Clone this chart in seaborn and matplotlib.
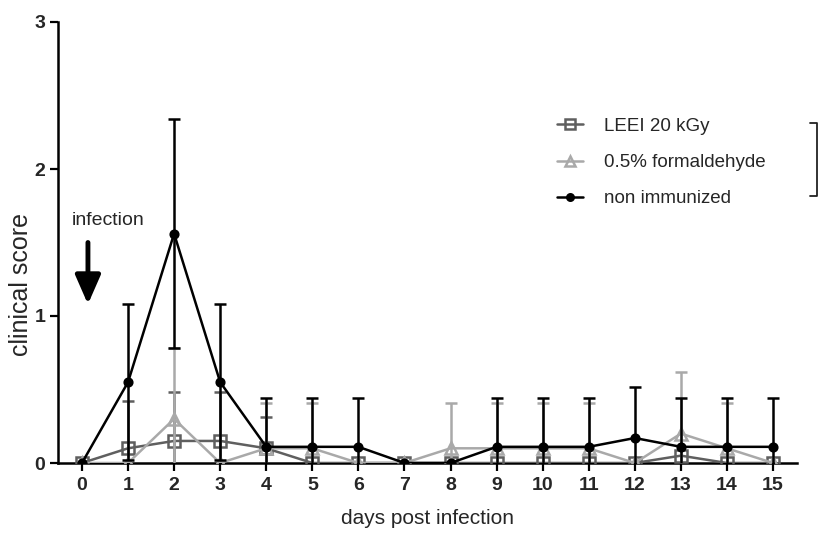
import matplotlib
matplotlib.use("Agg")
import matplotlib.pyplot as plt
from matplotlib.lines import Line2D
import seaborn as sns
import pandas as pd

days = list(range(16))
groups = ["LEEI 20 kGy", "0.5% formaldehyde", "non immunized"]

leei_mean = [0, 0.10, 0.15, 0.15, 0.10, 0, 0, 0, 0, 0, 0, 0, 0, 0.05, 0, 0]
leei_sd = [0, 0.32, 0.33, 0.33, 0.21, 0, 0, 0, 0, 0, 0, 0, 0, 0, 0, 0]

form_mean = [0, 0, 0.30, 0, 0.10, 0.10, 0, 0, 0.10, 0.10, 0.10, 0.10, 0, 0.20, 0.10, 0]
form_sd = [0, 0, 0.48, 0, 0.31, 0.31, 0, 0, 0.31, 0.31, 0.31, 0.31, 0, 0.42, 0.31, 0]

non_mean = [0, 0.55, 1.56, 0.55, 0.11, 0.11, 0.11, 0, 0, 0.11, 0.11, 0.11, 0.17, 0.11, 0.11, 0.11]
non_sd = [0, 0.53, 0.78, 0.53, 0.33, 0.33, 0.33, 0, 0, 0.33, 0.33, 0.33, 0.35, 0.33, 0.33, 0.33]

y_ticks = [0, 1, 2, 3]

sns.set_style("ticks")
plt.rcParams["font.family"] = ["Liberation Sans", "DejaVu Sans"]

fig = plt.figure(figsize=(8.2, 5.34), dpi=100)
ax = fig.add_axes([58 / 820, 1 - 463 / 534, (797 - 58) / 820, (463 - 22) / 534])

colors = {"LEEI 20 kGy": "#5f5f5f", "0.5% formaldehyde": "#a9a9a9", "non immunized": "#000000"}
markers = {"LEEI 20 kGy": "s", "0.5% formaldehyde": "^", "non immunized": "o"}
msizes = {"LEEI 20 kGy": 8, "0.5% formaldehyde": 8, "non immunized": 5.5}
means = {"LEEI 20 kGy": leei_mean, "0.5% formaldehyde": form_mean, "non immunized": non_mean}
sds = {"LEEI 20 kGy": leei_sd, "0.5% formaldehyde": form_sd, "non immunized": non_sd}

LW = 1.8
handles = []
for i, g in enumerate(groups):
    df = pd.DataFrame({"day": days, "score": means[g], "sd": sds[g]})
    sub = df[df["sd"] > 0]
    ax.errorbar(sub["day"], sub["score"], yerr=sub["sd"], fmt="none",
                ecolor=colors[g], elinewidth=LW, capsize=4, capthick=LW,
                zorder=2 + i)
    filled = g == "non immunized"
    sns.lineplot(data=df, x="day", y="score", color=colors[g], marker=markers[g],
                 markersize=msizes[g], markeredgewidth=LW,
                 markerfacecolor=colors[g] if filled else "none",
                 markeredgecolor=colors[g], linewidth=LW, ax=ax, zorder=3 + i,
                 legend=False)
    handles.append(Line2D([], [], color=colors[g], marker=markers[g],
                          markersize=msizes[g] * 0.85, markeredgewidth=LW,
                          markerfacecolor=colors[g] if filled else "none",
                          linewidth=LW, label=g))

ax.set_xlim(-0.52, 15.52)
ax.set_ylim(0, 3)
ax.set_xticks(days)
ax.set_yticks(y_ticks)
ax.set_xticklabels([str(d) for d in days], fontsize=14, fontweight="bold")
ax.set_yticklabels([str(t) for t in y_ticks], fontsize=14, fontweight="bold")
ax.tick_params(axis="both", width=1.6, length=6, color="black", pad=3)
ax.tick_params(axis="x", pad=4)
for s in ["left", "bottom"]:
    ax.spines[s].set_linewidth(1.8)
    ax.spines[s].set_color("black")
sns.despine(ax=ax)

ax.set_xlabel("days post infection", fontsize=15)
ax.set_ylabel("clinical score", fontsize=18)
ax.xaxis.set_label_coords(0.5, -0.105)
ax.yaxis.set_label_coords(-0.034, 0.404)

ax.text(-0.22, 1.65, "infection", fontsize=14, ha="left", va="center")
ax.annotate("", xy=(0.13, 1.08), xytext=(0.13, 1.50),
            arrowprops=dict(arrowstyle="-|>,head_length=0.8,head_width=0.35",
                            lw=3.5, color="black", mutation_scale=22,
                            shrinkA=0, shrinkB=0))

leg = fig.legend(handles=handles, loc="upper left",
                 bbox_to_anchor=(540 / 820, 1 - 101 / 534), frameon=False,
                 fontsize=13.5, handlelength=1.4, handletextpad=1.1,
                 labelspacing=1.01)

bx = [810 / 820, 817 / 820, 817 / 820, 810 / 820]
by = [1 - 123 / 534, 1 - 123 / 534, 1 - 196 / 534, 1 - 196 / 534]
fig.add_artist(Line2D(bx, by, color="#222222", linewidth=1.3, transform=fig.transFigure))

fig.savefig("out.png", dpi=100)
